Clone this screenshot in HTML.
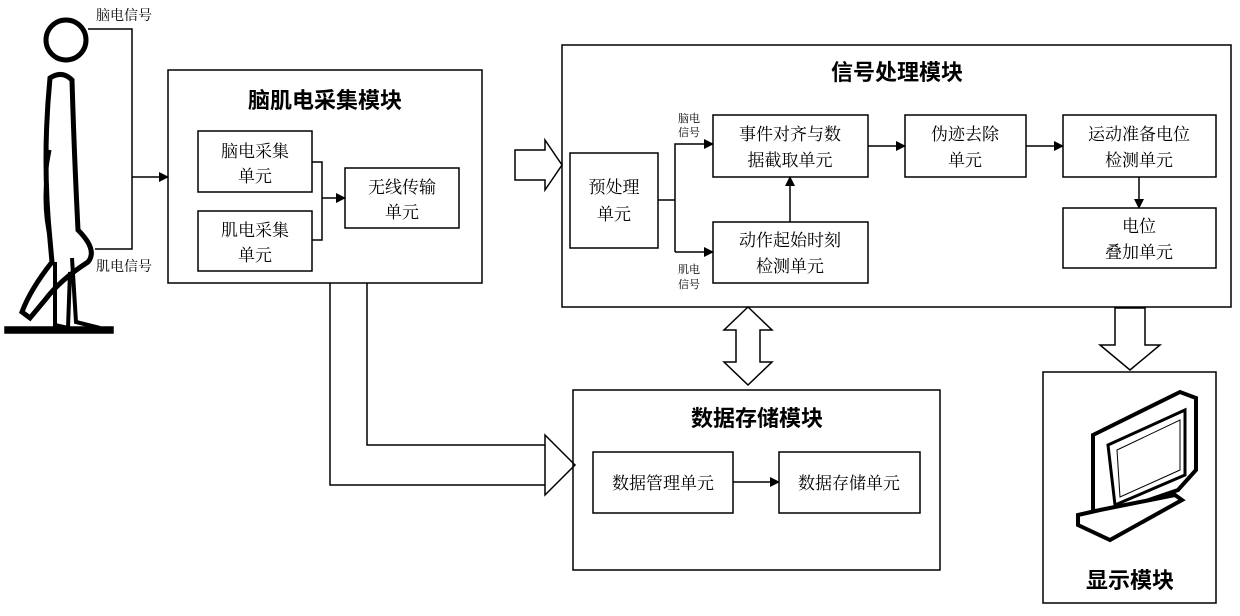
<!DOCTYPE html>
<html><head><meta charset="utf-8"><style>
body{margin:0;background:#fff}
text{font-family:"Liberation Serif","Noto Serif CJK SC",serif;fill:#000}
.b{font-weight:bold;font-family:"Liberation Sans","Noto Sans CJK SC",sans-serif}
</style></head><body>
<svg width="1240" height="611" viewBox="0 0 1240 611" xmlns="http://www.w3.org/2000/svg">
<defs><marker id="a" markerWidth="10" markerHeight="10" refX="9" refY="5" orient="auto" markerUnits="userSpaceOnUse"><path d="M0,0 L10,5 L0,10 z" fill="#000"/></marker></defs>
<g fill="none" stroke="#000" stroke-width="1.5">
<!-- person -->
<circle cx="66" cy="40" r="20" stroke-width="5"/>
<path d="M50,78 Q62,70 72,80 Q74,150 78,230 Q98,250 88,262 Q60,280 45,300 L30,318 L22,312 Q30,290 52,262 L50,240 Q42,160 50,78 z" stroke-width="5"/>
<path d="M50,150 Q40,200 50,240" stroke-width="3"/>
<path d="M55,262 L55,325 L68,328 L70,272" stroke-width="4"/>
<path d="M72,258 L76,322 L100,328" stroke-width="4"/>
<rect x="5" y="327" width="108" height="6" fill="#000"/>
<!-- signal lines -->
<polyline points="88,29 132,29 132,249 95,249"/>
<line x1="132" y1="177" x2="168" y2="177" marker-end="url(#a)"/>
<!-- acquisition module -->
<rect x="168" y="70" width="314" height="213"/>
<rect x="198" y="131" width="114" height="61"/>
<rect x="198" y="211" width="114" height="60"/>
<rect x="345" y="168" width="114" height="60"/>
<polyline points="312,162 322,162 322,240 312,240"/>
<line x1="322" y1="198" x2="345" y2="198" marker-end="url(#a)"/>
<!-- lines to storage -->
<polyline points="330,283 330,485 545,485"/>
<polyline points="367,283 367,445 545,445"/>
<path d="M545,435 L575,465 L545,495 z" fill="#fff"/>
<!-- hollow arrow to signal -->
<path d="M515,150 L545,150 L545,140 L562,165 L545,190 L545,180 L515,180 z" fill="#fff"/>
<!-- signal module -->
<rect x="562" y="45" width="669" height="262"/>
<rect x="570" y="153" width="88" height="95"/>
<polyline points="658,200 675,200"/>
<polyline points="675,252 675,144 713,144" marker-end="url(#a)"/>
<line x1="675" y1="252" x2="713" y2="252" marker-end="url(#a)"/>
<rect x="713" y="115" width="155" height="62"/>
<rect x="713" y="222" width="155" height="61"/>
<line x1="790" y1="222" x2="790" y2="177" marker-end="url(#a)"/>
<rect x="905" y="115" width="121" height="62"/>
<line x1="868" y1="146" x2="905" y2="146" marker-end="url(#a)"/>
<rect x="1063" y="115" width="153" height="62"/>
<line x1="1026" y1="146" x2="1063" y2="146" marker-end="url(#a)"/>
<rect x="1063" y="208" width="153" height="60"/>
<line x1="1139" y1="177" x2="1139" y2="208" marker-end="url(#a)"/>
<!-- double arrow -->
<path d="M748,307 L772,330 L760,330 L760,362 L772,362 L748,385 L724,362 L736,362 L736,330 L724,330 z" fill="#fff"/>
<!-- storage -->
<rect x="573" y="390" width="367" height="180"/>
<rect x="593" y="452" width="140" height="61"/>
<rect x="779" y="452" width="141" height="61"/>
<line x1="733" y1="482" x2="779" y2="482" marker-end="url(#a)"/>
<!-- display arrow -->
<path d="M1115,308 L1145,308 L1145,345 L1160,345 L1130,370 L1100,345 L1115,345 z" fill="#fff"/>
<rect x="1043" y="372" width="173" height="231"/>
<!-- monitor -->
<path d="M1093,435 L1180,392 L1196,398 L1196,470 L1178,490 L1105,515 L1093,510 z" fill="#fff" stroke-width="4"/>
<path d="M1108,445 L1185,410 L1185,475 L1115,505 z" stroke-width="3"/>
<path d="M1117,450 L1180,420 L1180,470 L1120,497 z" stroke-width="1"/>
<path d="M1078,515 L1100,510 L1175,495 L1182,500 L1110,540 L1078,525 z" fill="#fff" stroke-width="4"/>
</g>
<text x="96" y="20" font-size="14">脑电信号</text>
<text x="96" y="271" font-size="14">肌电信号</text>
<text x="325" y="108" font-size="22" text-anchor="middle" class="b">脑肌电采集模块</text>
<text x="255" y="157" font-size="17" text-anchor="middle">脑电采集</text>
<text x="255" y="182" font-size="17" text-anchor="middle">单元</text>
<text x="255" y="236" font-size="17" text-anchor="middle">肌电采集</text>
<text x="255" y="261" font-size="17" text-anchor="middle">单元</text>
<text x="402" y="193" font-size="17" text-anchor="middle">无线传输</text>
<text x="402" y="218" font-size="17" text-anchor="middle">单元</text>
<text x="897" y="80" font-size="22" text-anchor="middle" class="b">信号处理模块</text>
<text x="614" y="193" font-size="17" text-anchor="middle">预处理</text>
<text x="614" y="220" font-size="17" text-anchor="middle">单元</text>
<text x="689" y="122" font-size="11" text-anchor="middle">脑电</text>
<text x="689" y="136" font-size="11" text-anchor="middle">信号</text>
<text x="689" y="273" font-size="11" text-anchor="middle">肌电</text>
<text x="689" y="288" font-size="11" text-anchor="middle">信号</text>
<text x="790" y="140" font-size="17" text-anchor="middle">事件对齐与数</text>
<text x="790" y="166" font-size="17" text-anchor="middle">据截取单元</text>
<text x="790" y="246" font-size="17" text-anchor="middle">动作起始时刻</text>
<text x="790" y="272" font-size="17" text-anchor="middle">检测单元</text>
<text x="965" y="140" font-size="17" text-anchor="middle">伪迹去除</text>
<text x="965" y="166" font-size="17" text-anchor="middle">单元</text>
<text x="1139" y="140" font-size="17" text-anchor="middle">运动准备电位</text>
<text x="1139" y="166" font-size="17" text-anchor="middle">检测单元</text>
<text x="1139" y="232" font-size="17" text-anchor="middle">电位</text>
<text x="1139" y="258" font-size="17" text-anchor="middle">叠加单元</text>
<text x="757" y="426" font-size="22" text-anchor="middle" class="b">数据存储模块</text>
<text x="663" y="489" font-size="17" text-anchor="middle">数据管理单元</text>
<text x="849" y="489" font-size="17" text-anchor="middle">数据存储单元</text>
<text x="1130" y="588" font-size="22" text-anchor="middle" class="b">显示模块</text>
</svg>
</body></html>
